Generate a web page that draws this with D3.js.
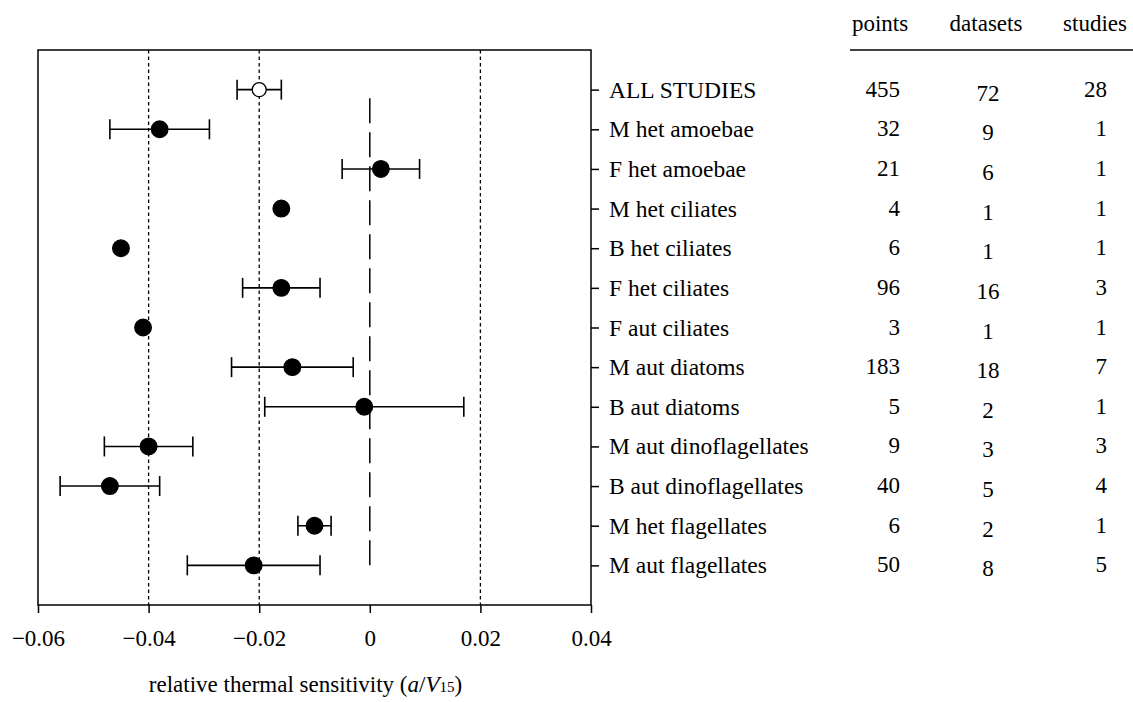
<!DOCTYPE html>
<html lang="en">
	<head>
		<meta charset="utf-8">
		<title>thermal sensitivity</title>
		<script type="text/javascript" src="https://d3js.org/d3.v7.min.js"></script>
		<style type="text/css">
            body{margin:0;background:#fff;}
            svg text{font-family:"Liberation Serif","Times New Roman",serif;fill:#000;}
		</style>
	</head>
	<body>
    <div id="chart1"></div>
		<script type="text/javascript">
            // groups, top to bottom
            var groups = ["ALL STUDIES","M het amoebae","F het amoebae","M het ciliates","B het ciliates",
                          "F het ciliates","F aut ciliates","M aut diatoms","B aut diatoms",
                          "M aut dinoflagellates","B aut dinoflagellates","M het flagellates","M aut flagellates"]
            // estimate and error bar ends (null = no bar drawn)
            var estimate = [-0.020,-0.038,0.002,-0.016,-0.045,-0.016,-0.041,-0.014,-0.001,-0.040,-0.047,-0.010,-0.021]
            var lower    = [-0.024,-0.047,-0.005,null,null,-0.023,null,-0.025,-0.019,-0.048,-0.056,-0.013,-0.033]
            var upper    = [-0.016,-0.029,0.009,null,null,-0.009,null,-0.003,0.017,-0.032,-0.038,-0.007,-0.009]
            // counts table
            var points   = [455,32,21,4,6,96,3,183,5,9,40,6,50]
            var datasets = [72,9,6,1,1,16,1,18,2,3,5,2,8]
            var studies  = [28,1,1,1,1,3,1,7,1,3,4,1,5]
            var xTicks = [-0.06,-0.04,-0.02,0,0.02,0.04]
            var gridValues = [-0.04,-0.02,0.02]

            var w = 1133
            var h = 702
            var mLeft = 38, mRight = 591, mTop = 50, mBottom = 605
            var fs = 23

            var svg = d3.select("#chart1")
                        .append("svg")
                        .attr("width",w)
                        .attr("height",h)

            var xScale = d3.scaleLinear().domain([-0.06,0.04]).range([mLeft,mRight])
            var yScale = d3.scalePoint().domain(groups).range([mTop,mBottom]).padding(1)

            // dotted grid lines
            svg.selectAll(".grid")
                .data(gridValues)
                .enter()
                .append("line")
                .attr("class","grid")
                .attr("x1",function(d){ return xScale(d) })
                .attr("x2",function(d){ return xScale(d) })
                .attr("y1",mTop)
                .attr("y2",mBottom)
                .attr("stroke","#000")
                .attr("stroke-width",1.3)
                .attr("stroke-dasharray","3.5,3")

            // long dashed line at zero
            svg.append("line")
                .attr("x1",xScale(0))
                .attr("x2",xScale(0))
                .attr("y1",yScale(groups[groups.length-1]))
                .attr("y2",yScale(groups[0]))
                .attr("stroke","#000")
                .attr("stroke-width",1.5)
                .attr("stroke-dasharray","25,9")

            // frame
            svg.append("rect")
                .attr("x",mLeft)
                .attr("y",mTop)
                .attr("width",mRight-mLeft)
                .attr("height",mBottom-mTop)
                .attr("fill","none")
                .attr("stroke","#000")
                .attr("stroke-width",1.5)

            // bottom axis
            var xAxis = d3.axisBottom(xScale)
                        .tickValues(xTicks)
                        .tickSize(8)
                        .tickSizeOuter(0)
                        .tickPadding(17)
                        .tickFormat(function(d){ return d===0 ? "0" : d3.format(".2f")(d) })
            var gx = svg.append("g")
                .attr("transform","translate(0,"+mBottom+")")
                .call(xAxis)
            gx.select(".domain").remove()
            gx.selectAll("line").attr("stroke-width",1.5)
            gx.selectAll("text").attr("font-size",fs).attr("font-family","Liberation Serif")

            // right axis with group names
            var yAxis = d3.axisRight(yScale)
                        .tickSize(8)
                        .tickSizeOuter(0)
                        .tickPadding(10)
            var gy = svg.append("g")
                .attr("transform","translate("+mRight+",0)")
                .call(yAxis)
            gy.select(".domain").remove()
            gy.selectAll("line").attr("stroke-width",1.5)
            gy.selectAll("text").attr("font-size",23.5).attr("font-family","Liberation Serif")

            var rows = groups.map(function(g,i){
                return {name:g, est:estimate[i], lo:lower[i], hi:upper[i], all:i===0}
            })
            var bars = rows.filter(function(d){ return d.lo!==null })

            // error bars
            svg.selectAll(".err")
                .data(bars)
                .enter()
                .append("line")
                .attr("class","err")
                .attr("x1",function(d){ return xScale(d.lo) })
                .attr("x2",function(d){ return xScale(d.hi) })
                .attr("y1",function(d){ return yScale(d.name) })
                .attr("y2",function(d){ return yScale(d.name) })
                .attr("stroke","#000")
                .attr("stroke-width",1.6)
            ;["lo","hi"].forEach(function(k){
                svg.selectAll(".cap-"+k)
                    .data(bars)
                    .enter()
                    .append("line")
                    .attr("class","cap-"+k)
                    .attr("x1",function(d){ return xScale(d[k]) })
                    .attr("x2",function(d){ return xScale(d[k]) })
                    .attr("y1",function(d){ return yScale(d.name)-10 })
                    .attr("y2",function(d){ return yScale(d.name)+10 })
                    .attr("stroke","#000")
                    .attr("stroke-width",1.6)
            })

            // points
            svg.selectAll(".pt")
                .data(rows)
                .enter()
                .append("circle")
                .attr("class","pt")
                .attr("cx",function(d){ return xScale(d.est) })
                .attr("cy",function(d){ return yScale(d.name) })
                .attr("r",function(d){ return d.all ? 7 : 8.3 })
                .attr("fill",function(d){ return d.all ? "#fff" : "#000" })
                .attr("stroke","#000")
                .attr("stroke-width",1.3)

            // table
            var cols = [
                {head:"points",   hx:880,  vals:points,   vx:900,  anchor:"end",    dy:0},
                {head:"datasets", hx:986,  vals:datasets, vx:988,  anchor:"middle", dy:4},
                {head:"studies",  hx:1095, vals:studies,  vx:1107, anchor:"end",    dy:0}
            ]
            cols.forEach(function(c){
                svg.append("text")
                    .attr("x",c.hx)
                    .attr("y",31)
                    .attr("text-anchor","middle")
                    .attr("font-size",fs)
                    .text(c.head)
                svg.selectAll(".v-"+c.head)
                    .data(c.vals)
                    .enter()
                    .append("text")
                    .attr("class","v-"+c.head)
                    .attr("x",c.vx)
                    .attr("y",function(d,i){ return yScale(groups[i])+7+c.dy })
                    .attr("text-anchor",c.anchor)
                    .attr("font-size",fs)
                    .text(function(d){ return d })
            })
            svg.append("line")
                .attr("x1",850)
                .attr("x2",w)
                .attr("y1",mTop)
                .attr("y2",mTop)
                .attr("stroke","#000")
                .attr("stroke-width",1.3)

            // x axis title
            var title = svg.append("text")
                .attr("x",(mLeft+mRight)/2 - 9)
                .attr("y",692)
                .attr("text-anchor","middle")
                .attr("font-size",fs)
            title.append("tspan").text("relative thermal sensitivity (")
            title.append("tspan").attr("font-style","italic").text("a")
            title.append("tspan").text("/")
            title.append("tspan").attr("font-style","italic").text("V")
            title.append("tspan").attr("font-size",15).text("15")
            title.append("tspan").text(")")
        </script>
	</body>
</html>
